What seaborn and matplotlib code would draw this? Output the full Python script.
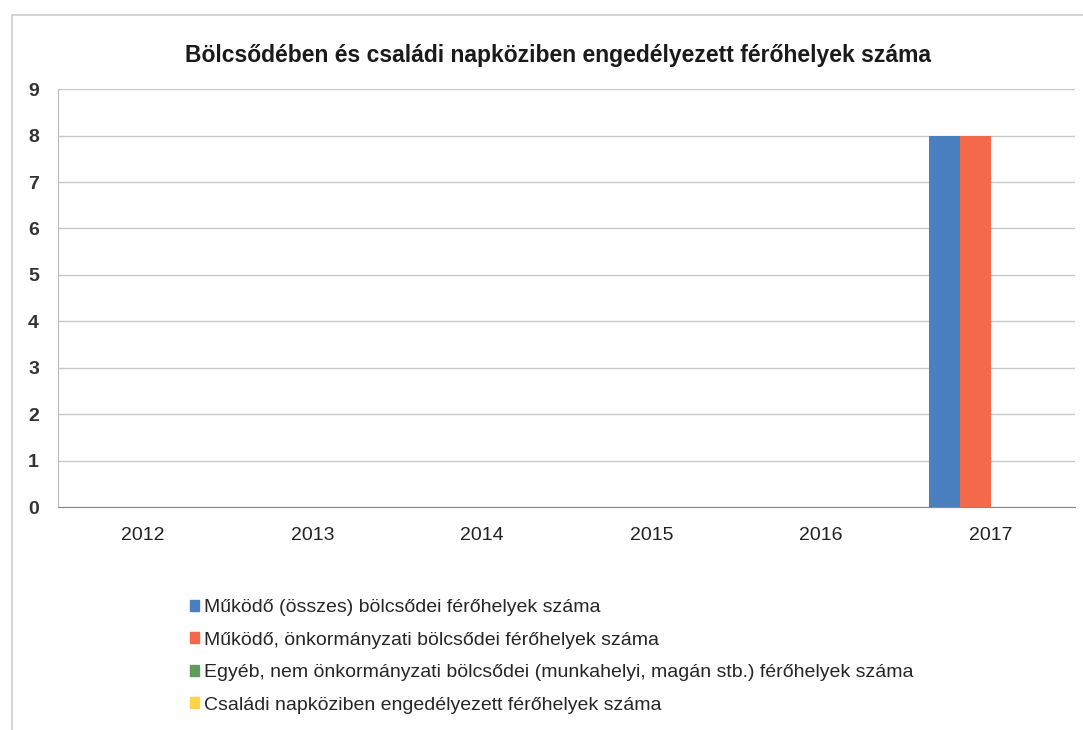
import numpy as np
import pandas as pd
import matplotlib
matplotlib.use("Agg")
import matplotlib.pyplot as plt
import seaborn as sns
from matplotlib.patches import Rectangle

# adatok
years = ["2012", "2013", "2014", "2015", "2016", "2017"]
series = [
    "Működő (összes) bölcsődei férőhelyek száma",
    "Működő, önkormányzati bölcsődei férőhelyek száma",
    "Egyéb, nem önkormányzati bölcsődei (munkahelyi, magán stb.) férőhelyek száma",
    "Családi napköziben engedélyezett férőhelyek száma",
]
osszes = [0, 0, 0, 0, 0, 8]
onkorm = [0, 0, 0, 0, 0, 8]
egyeb = [0, 0, 0, 0, 0, 0]
csaladi = [0, 0, 0, 0, 0, 0]
colors = ["#4a80c0", "#f4694a", "#5f9b5a", "#fdd34a"]

rows = []
for name, vals in zip(series, [osszes, onkorm, egyeb, csaladi]):
    for y, v in zip(years, vals):
        rows.append({"ev": y, "sorozat": name, "ertek": v})
df = pd.DataFrame(rows)

sns.set_style("white")
plt.rcParams["font.family"] = ["Liberation Sans", "DejaVu Sans"]

fig = plt.figure(figsize=(10.83, 7.30), dpi=100)
ax = fig.add_axes([0.054, 0.305, 0.939, 0.573])

sns.barplot(data=df, x="ev", y="ertek", hue="sorozat", palette=colors,
            width=0.73, ax=ax, legend=False, saturation=1, linewidth=0)

ax.set_ylim(0, 9)
ax.set_yticks(range(10))
ax.set_xlim(-0.5, 5.5)
ax.grid(axis="y", color="#c8c8c8", linewidth=1)
ax.set_axisbelow(True)
for s in ["top", "right"]:
    ax.spines[s].set_visible(False)
ax.spines["left"].set_color("#bbbbbb")
ax.spines["bottom"].set_color("#888888")
ax.set_xlabel("")
ax.set_ylabel("")
ax.tick_params(axis="y", length=4, color="#bbbbbb", labelsize=14, pad=10)
ax.tick_params(axis="x", length=0, labelsize=14, pad=14)
for lab in ax.get_yticklabels():
    lab.set_fontweight("bold")
    lab.set_color("#333333")
for lab in ax.get_xticklabels():
    lab.set_color("#222222")
# tick marks between categories
ax.set_xticks(np.arange(-0.5, 6.0, 1.0), minor=True)
ax.tick_params(axis="x", which="minor", length=6, color="#888888", direction="out")

fig.suptitle("Bölcsődében és családi napköziben engedélyezett férőhelyek száma",
             x=0.515, y=0.94, fontsize=16.5, fontweight="bold", color="#1a1a1a")

# legend
handles = [Rectangle((0, 0), 1, 1, color=c) for c in colors]
fig.legend(handles, series, loc="upper left", bbox_to_anchor=(0.168, 0.19),
           frameon=False, fontsize=14, handlelength=0.5, handleheight=0.5,
           handletextpad=0.25, labelspacing=0.8, borderaxespad=0)

# outer frame
fig.patches.append(Rectangle((0.011, -0.02), 1.2, 1.0, transform=fig.transFigure,
                             fill=False, edgecolor="#cccccc", linewidth=1.2))

fig.savefig("out.png", dpi=100)
